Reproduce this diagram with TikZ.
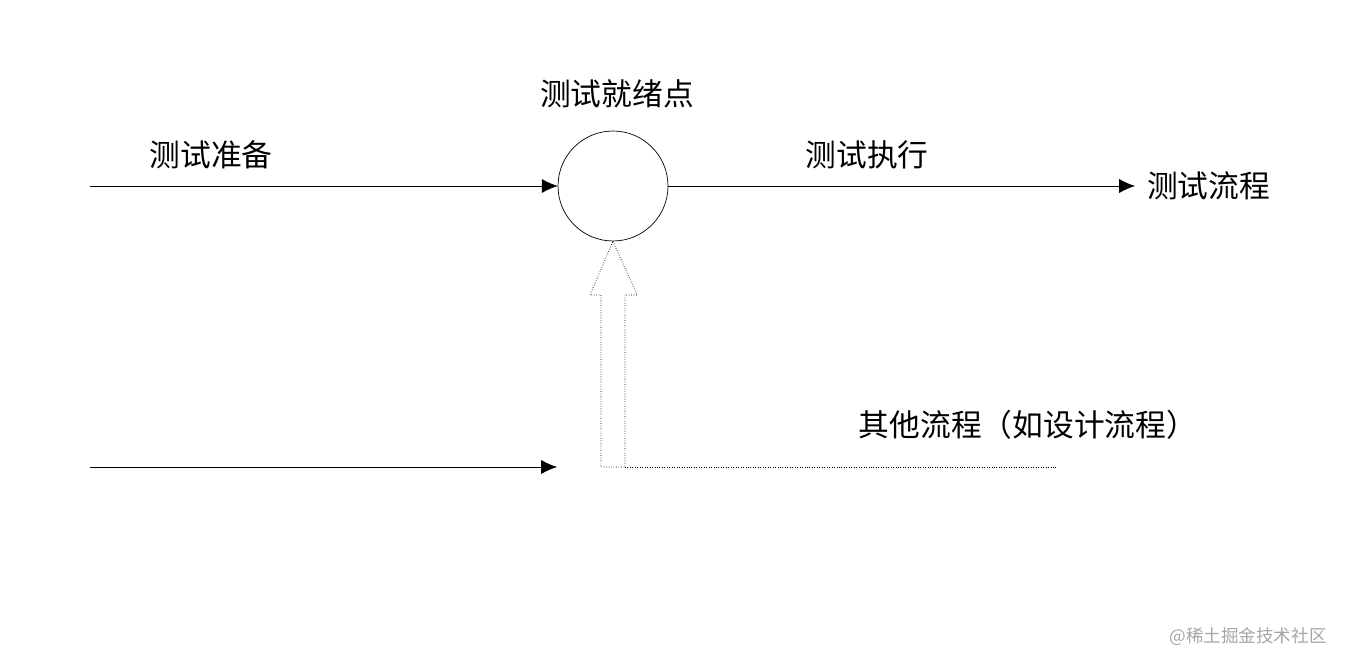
\documentclass[tikz,border=0pt]{standalone}
\usepackage{fontspec}
\newfontfamily\cjk{Noto Sans CJK SC}
\usetikzlibrary{arrows.meta}
\tikzset{
  lbl/.style={font=\cjk\fontsize{17.5}{21}\selectfont},
  flow/.style={-{Latex[length=9pt,width=8pt]}, thin},
  hollow/.style={densely dotted, thin}
}
\begin{document}
\begin{tikzpicture}[x=0.02cm,y=-0.02cm]
            \useasboundingbox (0,0) rectangle (1346,668);
            % nodes
            \node[circle, draw, minimum size=2.2cm, inner sep=0pt] (ready) at (613,186) {};
            \coordinate (prepStart) at (90,186);
            \coordinate (execEnd) at (1135,186);
            \coordinate (otherStart) at (90,467);
            \coordinate (otherEnd) at (557,467);
            \coordinate (dotEnd) at (1057,467);
            \node[lbl] (prep) at (211,155) {测试准备};
            \node[lbl] (readyLbl) at (617,94) {测试就绪点};
            \node[lbl] (exec) at (867,155) {测试执行};
            \node[lbl, anchor=west] (flowLbl) at (1141,186) {测试流程};
            \node[lbl] (other) at (1028,425) {其他流程（如设计流程）};
            \node[font=\cjk\fontsize{10}{12}\selectfont, text=gray!70] (mark) at (1248,637) {@稀土掘金技术社区};
            % connectors
            \draw[flow] (prepStart) -- (ready.west);
            \draw[flow] (ready.east) -- (execEnd);
            \draw[flow] (otherStart) -- (otherEnd);
            % hollow arrow
            \draw[hollow] (ready.south) -- (637,295) -- (625,295) -- (625,467)
              -- (601,467) -- (601,295) -- (590,295) -- cycle;
            \draw[hollow] (625,467) -- (dotEnd);
          \end{tikzpicture}
\end{document}
